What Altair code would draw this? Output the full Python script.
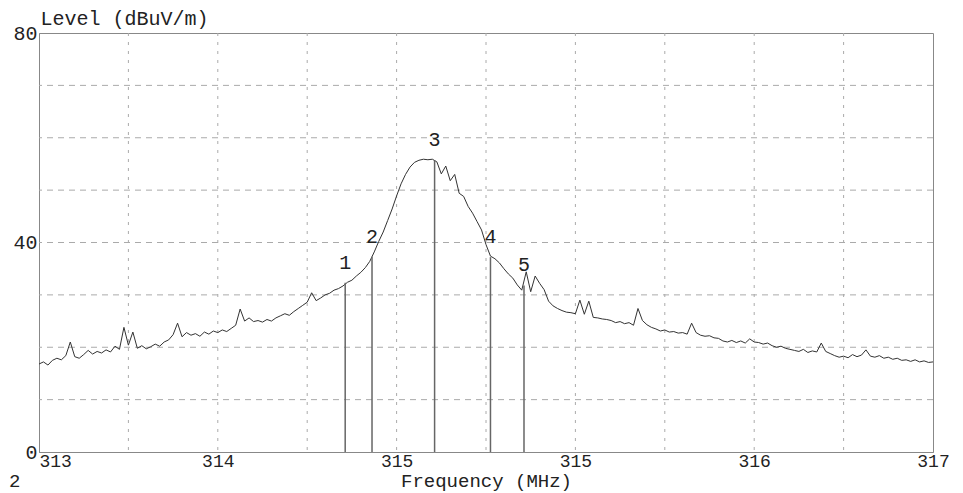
import altair as alt
import pandas as pd

# Sweep settings (analyzer): 313.00 .. 317.00 MHz, 0.02 MHz step
sweep_start = 313.0
sweep_step = 0.02

# Level trace (dBuV/m)
levels = [
    16.8, 17.2, 16.6, 17.5, 17.9, 17.6, 18.4, 21.0, 18.2, 17.9,
    18.6, 19.4, 18.7, 19.2, 18.9, 19.5, 19.1, 20.2, 19.6, 23.8,
    20.4, 22.9, 19.8, 20.3, 19.7, 20.1, 20.6, 20.2, 21.0, 21.4,
    22.4, 24.6, 22.0, 22.8, 22.3, 22.6, 22.1, 22.9, 22.5, 23.1,
    22.8, 23.3, 23.0, 23.6, 24.2, 27.3, 25.0, 25.6, 24.9, 25.1,
    24.8, 25.3, 25.0, 25.6, 26.0, 26.4, 26.1, 26.8, 27.4, 28.0,
    28.6, 30.4, 28.9, 29.4, 30.0, 30.3, 30.9, 31.2, 31.7, 32.4,
    32.8, 33.6, 34.3, 35.2, 36.4, 38.2, 40.2, 42.0, 44.2, 46.4,
    48.9, 51.2, 53.0, 54.4, 55.3, 55.7, 55.9, 55.8, 55.9, 55.4,
    53.1, 54.6, 51.8, 53.0, 49.4, 48.8, 46.9, 45.6, 44.0, 42.4,
    39.6, 37.4, 36.9, 36.1, 35.0, 34.0, 33.2, 31.9, 30.9, 34.4,
    30.6, 33.6, 32.2, 31.0, 28.8, 27.9, 27.4, 27.0, 26.7, 26.6,
    26.4, 29.0, 26.3, 28.8, 25.7, 25.6, 25.4, 25.3, 25.1, 24.7,
    24.9, 24.5, 24.7, 24.2, 27.4, 25.1, 24.3, 23.8, 23.5, 23.1,
    23.3, 22.9, 23.0, 22.7, 22.8, 22.5, 24.6, 22.8, 22.3, 22.1,
    22.2, 21.8, 21.7, 21.2, 21.0, 21.3, 20.9, 21.2, 20.8, 21.6,
    21.0, 20.9, 20.6, 20.8, 20.3, 20.0, 20.2, 19.8, 19.6, 19.4,
    19.2, 19.6, 19.0, 19.3, 19.1, 20.8, 19.2, 18.8, 18.4, 18.1,
    18.3, 18.0, 18.6, 18.2, 18.5, 19.5, 18.3, 18.1, 18.4, 17.9,
    18.1, 17.7, 17.9, 17.5, 17.6, 17.3, 17.6, 17.2, 17.4, 17.1,
    17.2,
]

marker_ids = ["1", "2", "3", "4", "5"]
marker_freqs = [314.37, 314.49, 314.77, 315.02, 315.17]
marker_levels = [32.3, 37.3, 55.7, 37.2, 31.8]

x_label_values = [313.0, 313.8, 314.6, 315.4, 316.2, 317.0]
x_grid_values = [313.4, 313.8, 314.2, 314.6, 315.0, 315.4, 315.8, 316.2, 316.6]
y_label_values = [0, 40, 80]
y_grid_values = [10, 20, 30, 40, 50, 60, 70]

FONT = "Liberation Mono"
FS = 20
W, H = 894, 419

freqs = [round(sweep_start + i * sweep_step, 2) for i in range(len(levels))]
trace = pd.DataFrame({"freq": freqs, "level": levels})
markers = pd.DataFrame({"id": marker_ids, "freq": marker_freqs, "level": marker_levels})
markers["base"] = 0
xg = pd.DataFrame({"freq": x_grid_values})
yg = pd.DataFrame({"level": y_grid_values})

xscale = alt.Scale(domain=[313, 317], nice=False, zero=False)
yscale = alt.Scale(domain=[0, 80], nice=False)

xaxis = alt.Axis(
    values=x_label_values, format=".0f", grid=False, ticks=False,
    domainColor="#888", domainWidth=1,
    labelFont=FONT, labelFontSize=18, labelColor="#222",
    labelFlush=False, labelPadding=0,
    labelAlign=alt.expr("datum.value <= 313 ? 'left' : 'center'"),
    title="Frequency (MHz)", titleFont=FONT, titleFontSize=19,
    titleFontWeight="normal", titleColor="#222", titlePadding=1,
)
yaxis = alt.Axis(
    values=y_label_values, grid=False, ticks=False,
    domainColor="#888", domainWidth=1,
    labelFont=FONT, labelFontSize=FS, labelColor="#222", labelPadding=2,
    title="Level (dBuV/m)", titleFont=FONT, titleFontSize=FS,
    titleFontWeight="normal", titleColor="#222", titleAngle=0,
    titleAlign="left", titleBaseline="alphabetic", titleX=1, titleY=-9,
)

hgrid = alt.Chart(yg).mark_rule(color="#aaa", strokeDash=[6, 5], strokeWidth=1).encode(
    y=alt.Y("level:Q", scale=yscale, axis=yaxis)
)
vgrid = alt.Chart(xg).mark_rule(color="#aaa", strokeDash=[3, 6], strokeWidth=1).encode(
    x=alt.X("freq:Q", scale=xscale, axis=xaxis)
)
line = alt.Chart(trace).mark_line(color="#333", strokeWidth=1).encode(
    x=alt.X("freq:Q", scale=xscale, axis=xaxis),
    y=alt.Y("level:Q", scale=yscale, axis=yaxis),
)
mrules = alt.Chart(markers).mark_rule(color="#666", strokeWidth=1.5).encode(
    x=alt.X("freq:Q", scale=xscale),
    y=alt.Y("base:Q", scale=yscale),
    y2=alt.Y2("level:Q"),
)
mtext = alt.Chart(markers).mark_text(
    font=FONT, fontSize=20, color="#222", baseline="middle", dy=-20
).encode(
    x=alt.X("freq:Q", scale=xscale),
    y=alt.Y("level:Q", scale=yscale),
    text="id:N",
)
corner = alt.Chart(pd.DataFrame({"t": ["2"]})).mark_text(
    font=FONT, fontSize=19, color="#222", align="left", baseline="middle"
).encode(x=alt.value(-30), y=alt.value(H + 29), text="t:N")

chart = (
    alt.layer(hgrid, vgrid, line, mrules, mtext, corner)
    .properties(
        width=W, height=H,
        autosize=alt.AutoSizeParams(type="none"),
        padding={"left": 31, "top": 25, "right": 20, "bottom": 40},
        background="white",
    )
    .configure_view(stroke="#888", strokeWidth=1)
)

chart.save("out.html", embed_options={"renderer": "svg", "actions": False})
